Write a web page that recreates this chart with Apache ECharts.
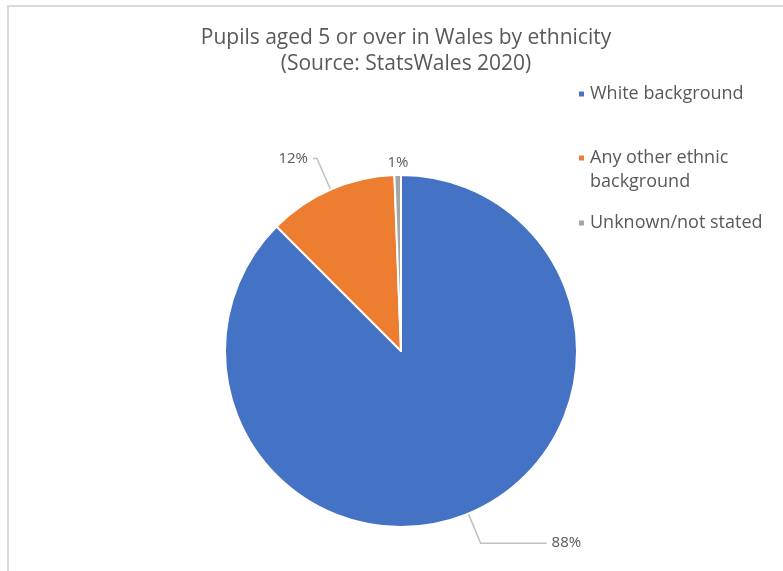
<!DOCTYPE html>
<html>
<head>
<meta charset="utf-8">
<script src="https://cdn.jsdelivr.net/npm/echarts@6/dist/echarts.min.js"></script>
<style>
  html, body { margin: 0; padding: 0; background: #ffffff; }
  #frame { position: absolute; left: 7px; top: 5px; width: 780px; height: 570px;
           border-left: 2px solid #d9d9d9; border-top: 2px solid #d9d9d9; }
  #chart { position: absolute; left: 0; top: 0; width: 783px; height: 571px; }
</style>
</head>
<body>
<div id="frame"></div>
<div id="chart"></div>
<script>
// 数据
const categories = ['White background', 'Any other ethnic background', 'Unknown/not stated'];
const shares = [87.5, 11.9, 0.6];
const colors = ['#4472C4', '#ED7D31', '#A5A5A5'];

const chart = echarts.init(document.getElementById('chart'));
const FONT = 'Open Sans';
const GREY = '#595959';

// 每个图例单独放置
function makeLegend(name, top, twoLines) {
  return {
    data: [name],
    left: 572,
    top: top,
    orient: 'vertical',
    icon: 'rect',
    itemWidth: 7,
    itemHeight: 7,
    formatter: twoLines ? function () { return '\nAny other ethnic\nbackground'; } : '{name}',
    textStyle: {
      fontFamily: FONT,
      fontSize: 18,
      color: GREY,
      lineHeight: 24
    }
  };
}

const data = categories.map(function (name, i) {
  const item = { name: name, value: shares[i], itemStyle: { color: colors[i] } };
  if (i === 0) item.labelLine = { length: 32, length2: 66 };
  if (i === 1) item.labelLine = { length: 34, length2: 4 };
  if (i === 2) {
    item.labelLine = { show: false, length: 12, length2: -16 };
    item.label = { distance: 0 };
  }
  return item;
});

chart.setOption({
  backgroundColor: 'transparent',
  animation: false,
  title: {
    text: 'Pupils aged 5 or over in Wales by ethnicity\n(Source: StatsWales 2020)',
    left: 401,
    top: 20,
    textAlign: 'center',
    textStyle: {
      fontFamily: FONT,
      fontSize: 21,
      fontWeight: 'normal',
      color: GREY,
      lineHeight: 26
    }
  },
  legend: [
    makeLegend(categories[0], 77, false),
    makeLegend(categories[1], 117, true),
    makeLegend(categories[2], 206, false)
  ],
  series: [
    {
      type: 'pie',
      center: [401, 351],
      radius: 176,
      startAngle: 90,
      clockwise: true,
      avoidLabelOverlap: false,
      itemStyle: { borderColor: '#ffffff', borderWidth: 2 },
      label: {
        show: true,
        position: 'outside',
        fontFamily: FONT,
        fontSize: 15,
        color: GREY,
        distance: 3,
        formatter: function (p) { return Math.round(p.percent) + '%'; }
      },
      labelLine: {
        show: true,
        lineStyle: { color: '#bfbfbf', width: 1.5 }
      },
      emphasis: { disabled: true },
      data: data
    }
  ]
});
</script>
</body>
</html>
